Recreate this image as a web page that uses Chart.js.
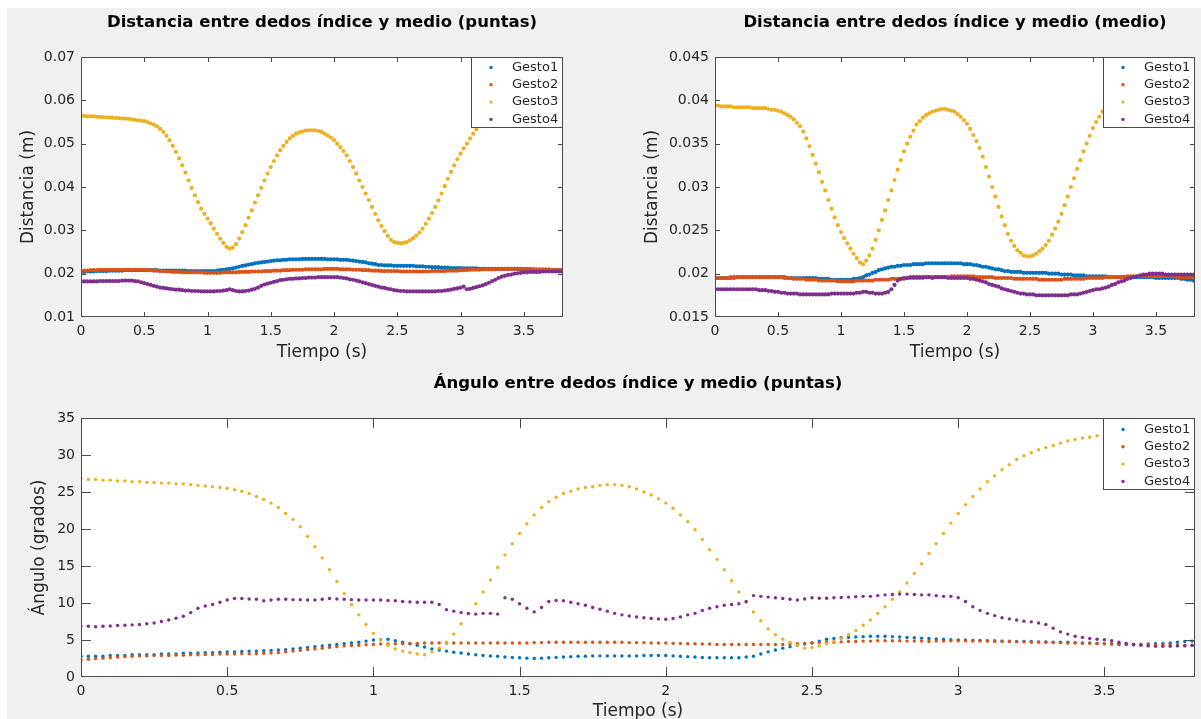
<!DOCTYPE html>
<html lang="es">
<head>
<meta charset="utf-8">
<title>Distancia y ángulo entre dedos</title>
<script src="https://cdn.jsdelivr.net/npm/chart.js@4.4.1/dist/chart.umd.min.js"></script>
<style>
  html, body { margin: 0; padding: 0; background: #fff; width: 1201px; height: 719px; overflow: hidden; }
  #figura { position: absolute; left: 7px; top: 8px; width: 1194px; height: 711px; background: #f0f0f0; }
  canvas { position: absolute; left: 0; top: 0; }
</style>
</head>
<body>
<div id="figura"></div>
<canvas id="puntas" width="1201" height="719"></canvas>
<canvas id="medio" width="1201" height="719"></canvas>
<canvas id="angulo" width="1201" height="719"></canvas>
<script>
// muestras cada 0.025 s, de 0 a 3.8 s
const tiempo = Array.from({ length: 153 }, (_, i) => +(i * 0.025).toFixed(3));

const gestos = ['Gesto1', 'Gesto2', 'Gesto3', 'Gesto4'];
const colores = ['#0072BD', '#D95319', '#EDB120', '#7E2F8E'];

const xTicks = [0, 0.5, 1, 1.5, 2, 2.5, 3, 3.5];
const xTickLabels = ['0', '0.5', '1', '1.5', '2', '2.5', '3', '3.5'];
const puntasYTicks = [0.01, 0.02, 0.03, 0.04, 0.05, 0.06, 0.07];
const puntasYLabels = ['0.01', '0.02', '0.03', '0.04', '0.05', '0.06', '0.07'];
const medioYTicks = [0.015, 0.02, 0.025, 0.03, 0.035, 0.04, 0.045];
const medioYLabels = ['0.015', '0.02', '0.025', '0.03', '0.035', '0.04', '0.045'];
const anguloYTicks = [0, 5, 10, 15, 20, 25, 30, 35];
const anguloYLabels = ['0', '5', '10', '15', '20', '25', '30', '35'];

// Distancia entre puntas (m)
const puntasG1 = [
  0.0204,0.0204,0.0205,0.0205,0.0205,0.0206,0.0206,0.0206,
  0.0206,0.0207,0.0207,0.0207,0.0207,0.0207,0.0208,0.0208,
  0.0208,0.0208,0.0208,0.0208,0.0208,0.0208,0.0208,0.0208,
  0.0208,0.0207,0.0207,0.0207,0.0207,0.0207,0.0207,0.0207,
  0.0207,0.0207,0.0206,0.0206,0.0206,0.0206,0.0206,0.0206,
  0.0206,0.0206,0.0206,0.0207,0.0208,0.0209,0.0210,0.0211,
  0.0212,0.0214,0.0216,0.0218,0.0219,0.0221,0.0222,0.0224,
  0.0225,0.0226,0.0227,0.0228,0.0229,0.0230,0.0231,0.0231,
  0.0232,0.0232,0.0233,0.0233,0.0233,0.0233,0.0234,0.0234,
  0.0234,0.0234,0.0234,0.0234,0.0234,0.0234,0.0233,0.0233,
  0.0233,0.0233,0.0232,0.0232,0.0232,0.0231,0.0230,0.0229,
  0.0228,0.0227,0.0226,0.0224,0.0223,0.0222,0.0220,0.0220,
  0.0219,0.0219,0.0219,0.0218,0.0218,0.0218,0.0218,0.0218,
  0.0218,0.0218,0.0217,0.0217,0.0217,0.0216,0.0216,0.0215,
  0.0215,0.0215,0.0214,0.0214,0.0214,0.0213,0.0213,0.0213,
  0.0213,0.0212,0.0212,0.0212,0.0212,0.0212,0.0211,0.0211,
  0.0211,0.0211,0.0211,0.0211,0.0211,0.0211,0.0211,0.0211,
  0.0211,0.0211,0.0211,0.0210,0.0210,0.0210,0.0210,0.0210,
  0.0209,0.0209,0.0209,0.0209,0.0208,0.0208,0.0208,0.0208,
  0.0208
];
const puntasG2 = [
  0.0206,0.0207,0.0207,0.0208,0.0208,0.0208,0.0209,0.0209,
  0.0209,0.0209,0.0209,0.0209,0.0209,0.0209,0.0209,0.0209,
  0.0209,0.0209,0.0209,0.0209,0.0209,0.0208,0.0208,0.0207,
  0.0207,0.0206,0.0206,0.0205,0.0205,0.0204,0.0204,0.0204,
  0.0203,0.0203,0.0203,0.0203,0.0203,0.0203,0.0203,0.0202,
  0.0202,0.0202,0.0202,0.0202,0.0202,0.0203,0.0203,0.0203,
  0.0203,0.0203,0.0204,0.0204,0.0204,0.0204,0.0205,0.0205,
  0.0205,0.0205,0.0206,0.0206,0.0206,0.0207,0.0207,0.0207,
  0.0208,0.0208,0.0208,0.0209,0.0209,0.0209,0.0209,0.0210,
  0.0210,0.0210,0.0210,0.0210,0.0210,0.0211,0.0211,0.0211,
  0.0211,0.0211,0.0210,0.0210,0.0210,0.0210,0.0209,0.0209,
  0.0209,0.0208,0.0208,0.0208,0.0207,0.0207,0.0207,0.0206,
  0.0206,0.0206,0.0206,0.0206,0.0206,0.0205,0.0205,0.0205,
  0.0205,0.0205,0.0205,0.0205,0.0205,0.0205,0.0205,0.0206,
  0.0206,0.0206,0.0206,0.0206,0.0207,0.0207,0.0207,0.0207,
  0.0208,0.0208,0.0208,0.0209,0.0209,0.0209,0.0209,0.0210,
  0.0210,0.0210,0.0210,0.0210,0.0211,0.0211,0.0211,0.0211,
  0.0211,0.0211,0.0211,0.0211,0.0211,0.0211,0.0211,0.0210,
  0.0210,0.0210,0.0210,0.0210,0.0210,0.0209,0.0209,0.0209,
  0.0209
];
const puntasG3 = [
  0.0564,0.0564,0.0563,0.0563,0.0563,0.0562,0.0562,0.0561,
  0.0561,0.0560,0.0560,0.0559,0.0559,0.0558,0.0558,0.0557,
  0.0556,0.0555,0.0554,0.0553,0.0552,0.0550,0.0547,0.0544,
  0.0540,0.0534,0.0527,0.0518,0.0508,0.0495,0.0481,0.0466,
  0.0450,0.0433,0.0415,0.0398,0.0381,0.0365,0.0350,0.0338,
  0.0327,0.0316,0.0304,0.0292,0.0281,0.0271,0.0262,0.0258,
  0.0260,0.0268,0.0281,0.0296,0.0312,0.0329,0.0346,0.0364,
  0.0381,0.0398,0.0415,0.0431,0.0446,0.0460,0.0473,0.0485,
  0.0495,0.0504,0.0512,0.0518,0.0523,0.0526,0.0528,0.0530,
  0.0531,0.0531,0.0531,0.0529,0.0527,0.0523,0.0519,0.0514,
  0.0508,0.0500,0.0492,0.0483,0.0473,0.0460,0.0446,0.0431,
  0.0415,0.0400,0.0385,0.0370,0.0354,0.0338,0.0323,0.0310,
  0.0298,0.0287,0.0278,0.0273,0.0271,0.0270,0.0271,0.0273,
  0.0277,0.0282,0.0288,0.0295,0.0304,0.0315,0.0327,0.0340,
  0.0354,0.0369,0.0385,0.0402,0.0419,0.0435,0.0450,0.0464,
  0.0477,0.0489,0.0500,0.0512,0.0523,0.0533,0.0542,0.0550,
  0.0558,0.0565,0.0572,0.0578,0.0584,0.0590,0.0595,0.0600,
  0.0605,0.0609,0.0613,0.0617,0.0620,0.0623,0.0626,0.0629,
  0.0631,0.0633,0.0635,0.0637,0.0638,0.0640,0.0641,0.0643,
  0.0644
];
const puntasG4 = [
  0.0182,0.0182,0.0182,0.0182,0.0182,0.0182,0.0183,0.0183,
  0.0183,0.0183,0.0183,0.0183,0.0183,0.0184,0.0184,0.0184,
  0.0184,0.0183,0.0182,0.0180,0.0178,0.0176,0.0174,0.0172,
  0.0170,0.0168,0.0167,0.0166,0.0165,0.0164,0.0163,0.0163,
  0.0162,0.0161,0.0161,0.0160,0.0160,0.0160,0.0159,0.0159,
  0.0159,0.0159,0.0159,0.0160,0.0160,0.0161,0.0162,0.0164,
  0.0162,0.0160,0.0159,0.0159,0.0160,0.0161,0.0163,0.0165,
  0.0168,0.0172,0.0175,0.0177,0.0179,0.0181,0.0183,0.0185,
  0.0186,0.0187,0.0188,0.0188,0.0189,0.0189,0.0190,0.0190,
  0.0191,0.0191,0.0191,0.0192,0.0192,0.0192,0.0192,0.0192,
  0.0192,0.0192,0.0191,0.0190,0.0189,0.0187,0.0186,0.0184,
  0.0182,0.0180,0.0178,0.0176,0.0174,0.0172,0.0170,0.0168,
  0.0167,0.0165,0.0164,0.0162,0.0161,0.0160,0.0160,0.0159,
  0.0159,0.0159,0.0159,0.0159,0.0159,0.0159,0.0159,0.0159,
  0.0159,0.0160,0.0160,0.0161,0.0162,0.0163,0.0165,0.0166,
  0.0168,0.0170,0.0164,0.0165,0.0167,0.0169,0.0171,0.0173,
  0.0176,0.0179,0.0183,0.0186,0.0190,0.0193,0.0195,0.0197,
  0.0198,0.0200,0.0201,0.0202,0.0203,0.0203,0.0204,0.0204,
  0.0204,0.0204,0.0205,0.0205,0.0205,0.0205,0.0205,0.0205,
  0.0205
];

// Distancia entre falanges medias (m)
const medioG1 = [
  0.0195,0.0195,0.0195,0.0195,0.0195,0.0195,0.0195,0.0196,
  0.0196,0.0196,0.0196,0.0196,0.0196,0.0196,0.0196,0.0196,
  0.0196,0.0196,0.0196,0.0196,0.0196,0.0196,0.0196,0.0195,
  0.0195,0.0195,0.0195,0.0195,0.0195,0.0195,0.0195,0.0195,
  0.0195,0.0194,0.0194,0.0194,0.0194,0.0193,0.0193,0.0193,
  0.0193,0.0193,0.0193,0.0193,0.0194,0.0194,0.0195,0.0196,
  0.0198,0.0199,0.0201,0.0202,0.0204,0.0205,0.0206,0.0207,
  0.0208,0.0208,0.0209,0.0209,0.0210,0.0210,0.0210,0.0211,
  0.0211,0.0211,0.0211,0.0212,0.0212,0.0212,0.0212,0.0212,
  0.0212,0.0212,0.0212,0.0212,0.0212,0.0212,0.0212,0.0211,
  0.0211,0.0211,0.0210,0.0210,0.0209,0.0208,0.0208,0.0207,
  0.0206,0.0205,0.0205,0.0204,0.0203,0.0203,0.0202,0.0202,
  0.0202,0.0202,0.0201,0.0201,0.0201,0.0201,0.0201,0.0201,
  0.0201,0.0201,0.0200,0.0200,0.0200,0.0200,0.0199,0.0199,
  0.0199,0.0199,0.0198,0.0198,0.0198,0.0198,0.0197,0.0197,
  0.0197,0.0197,0.0197,0.0197,0.0197,0.0196,0.0196,0.0196,
  0.0196,0.0196,0.0196,0.0196,0.0196,0.0196,0.0196,0.0196,
  0.0196,0.0196,0.0196,0.0196,0.0195,0.0195,0.0195,0.0195,
  0.0195,0.0195,0.0195,0.0195,0.0194,0.0194,0.0193,0.0193,
  0.0192
];
const medioG2 = [
  0.0195,0.0195,0.0195,0.0195,0.0195,0.0196,0.0196,0.0196,
  0.0196,0.0196,0.0196,0.0196,0.0196,0.0196,0.0196,0.0196,
  0.0196,0.0196,0.0196,0.0196,0.0196,0.0196,0.0195,0.0195,
  0.0195,0.0194,0.0194,0.0194,0.0194,0.0193,0.0193,0.0193,
  0.0193,0.0192,0.0192,0.0192,0.0192,0.0192,0.0192,0.0191,
  0.0191,0.0191,0.0191,0.0191,0.0191,0.0192,0.0192,0.0192,
  0.0192,0.0192,0.0192,0.0193,0.0193,0.0193,0.0193,0.0193,
  0.0194,0.0194,0.0194,0.0194,0.0194,0.0195,0.0195,0.0195,
  0.0195,0.0195,0.0195,0.0196,0.0196,0.0196,0.0196,0.0196,
  0.0196,0.0196,0.0196,0.0197,0.0197,0.0197,0.0197,0.0197,
  0.0197,0.0197,0.0197,0.0196,0.0196,0.0196,0.0196,0.0196,
  0.0196,0.0195,0.0195,0.0195,0.0195,0.0195,0.0195,0.0194,
  0.0194,0.0194,0.0194,0.0194,0.0194,0.0194,0.0194,0.0193,
  0.0193,0.0193,0.0193,0.0193,0.0193,0.0193,0.0193,0.0194,
  0.0194,0.0194,0.0194,0.0194,0.0194,0.0194,0.0195,0.0195,
  0.0195,0.0195,0.0195,0.0195,0.0196,0.0196,0.0196,0.0196,
  0.0196,0.0196,0.0196,0.0197,0.0197,0.0197,0.0197,0.0197,
  0.0197,0.0197,0.0197,0.0197,0.0197,0.0197,0.0197,0.0197,
  0.0197,0.0197,0.0197,0.0196,0.0196,0.0196,0.0196,0.0196,
  0.0196
];
const medioG3 = [
  0.0394,0.0394,0.0393,0.0393,0.0393,0.0393,0.0392,0.0392,
  0.0392,0.0392,0.0392,0.0392,0.0391,0.0391,0.0391,0.0391,
  0.0391,0.0390,0.0389,0.0389,0.0388,0.0387,0.0385,0.0383,
  0.0381,0.0378,0.0374,0.0370,0.0364,0.0356,0.0347,0.0337,
  0.0327,0.0317,0.0306,0.0296,0.0285,0.0275,0.0265,0.0256,
  0.0248,0.0241,0.0235,0.0229,0.0223,0.0218,0.0213,0.0211,
  0.0215,0.0221,0.0229,0.0239,0.0250,0.0262,0.0273,0.0285,
  0.0296,0.0308,0.0320,0.0331,0.0341,0.0350,0.0358,0.0365,
  0.0372,0.0376,0.0380,0.0383,0.0385,0.0387,0.0388,0.0389,
  0.0390,0.0390,0.0389,0.0388,0.0387,0.0384,0.0381,0.0377,
  0.0373,0.0367,0.0360,0.0353,0.0345,0.0335,0.0323,0.0312,
  0.0300,0.0289,0.0277,0.0266,0.0256,0.0246,0.0238,0.0232,
  0.0227,0.0224,0.0221,0.0220,0.0220,0.0221,0.0223,0.0226,
  0.0229,0.0233,0.0238,0.0245,0.0252,0.0260,0.0269,0.0279,
  0.0289,0.0300,0.0310,0.0321,0.0331,0.0341,0.0350,0.0359,
  0.0368,0.0375,0.0381,0.0387,0.0392,0.0397,0.0402,0.0406,
  0.0410,0.0414,0.0417,0.0420,0.0423,0.0426,0.0428,0.0430,
  0.0432,0.0434,0.0435,0.0437,0.0438,0.0439,0.0440,0.0441,
  0.0442,0.0443,0.0443,0.0444,0.0444,0.0445,0.0445,0.0445,
  0.0446
];
const medioG4 = [
  0.0182,0.0182,0.0182,0.0182,0.0182,0.0182,0.0182,0.0182,
  0.0182,0.0182,0.0182,0.0182,0.0182,0.0182,0.0181,0.0181,
  0.0181,0.0180,0.0180,0.0179,0.0179,0.0178,0.0178,0.0177,
  0.0177,0.0177,0.0177,0.0176,0.0176,0.0176,0.0176,0.0176,
  0.0176,0.0176,0.0176,0.0176,0.0176,0.0177,0.0177,0.0177,
  0.0177,0.0177,0.0177,0.0177,0.0177,0.0178,0.0178,0.0179,
  0.0179,0.0178,0.0178,0.0177,0.0177,0.0177,0.0178,0.0179,
  0.0182,0.0187,0.0192,0.0194,0.0195,0.0195,0.0196,0.0196,
  0.0196,0.0196,0.0196,0.0196,0.0196,0.0195,0.0196,0.0196,
  0.0196,0.0196,0.0195,0.0195,0.0195,0.0195,0.0195,0.0195,
  0.0195,0.0194,0.0194,0.0193,0.0192,0.0191,0.0190,0.0188,
  0.0187,0.0186,0.0185,0.0183,0.0182,0.0181,0.0180,0.0179,
  0.0178,0.0177,0.0177,0.0176,0.0176,0.0176,0.0175,0.0175,
  0.0175,0.0175,0.0175,0.0175,0.0175,0.0175,0.0175,0.0175,
  0.0175,0.0176,0.0176,0.0176,0.0177,0.0178,0.0179,0.0180,
  0.0181,0.0182,0.0182,0.0183,0.0184,0.0185,0.0187,0.0188,
  0.0190,0.0191,0.0192,0.0194,0.0195,0.0196,0.0197,0.0198,
  0.0199,0.0199,0.0200,0.0200,0.0200,0.0200,0.0200,0.0199,
  0.0199,0.0199,0.0199,0.0199,0.0199,0.0199,0.0199,0.0199,
  0.0199
];

// Ángulo entre puntas (grados)
const anguloG1 = [
  2.8,2.8,2.8,2.8,2.9,2.9,2.9,3.0,
  3.0,3.0,3.0,3.1,3.1,3.1,3.2,3.2,
  3.25,3.3,3.3,3.35,3.4,3.4,3.45,3.5,
  3.5,3.55,3.6,3.65,3.7,3.8,3.9,4.0,
  4.1,4.2,4.3,4.4,4.5,4.6,4.7,4.85,
  5.0,5.05,5.1,4.9,4.7,4.5,4.3,4.05,
  3.8,3.65,3.5,3.35,3.25,3.1,3.0,2.9,
  2.85,2.8,2.7,2.65,2.6,2.55,2.5,2.55,
  2.6,2.65,2.7,2.75,2.8,2.8,2.85,2.85,
  2.85,2.85,2.85,2.85,2.85,2.9,2.9,2.9,
  2.9,2.85,2.8,2.75,2.7,2.65,2.6,2.6,
  2.6,2.6,2.6,2.7,2.8,3.1,3.4,3.65,
  3.9,4.1,4.3,4.45,4.6,4.85,5.1,5.2,
  5.3,5.35,5.4,5.45,5.5,5.5,5.5,5.45,
  5.4,5.35,5.3,5.25,5.2,5.15,5.1,5.05,
  5.0,5.0,4.95,4.95,4.9,4.9,4.85,4.85,
  4.8,4.8,4.8,4.75,4.75,4.7,4.7,4.7,
  4.65,4.6,4.6,4.55,4.5,4.45,4.4,4.4,
  4.35,4.4,4.45,4.5,4.55,4.6,4.7,4.8,
  4.85
];
const anguloG2 = [
  2.3,2.4,2.5,2.55,2.6,2.7,2.75,2.8,
  2.85,2.85,2.9,2.9,2.9,2.95,2.95,3.0,
  3.0,3.05,3.05,3.1,3.1,3.1,3.15,3.15,
  3.15,3.2,3.25,3.3,3.4,3.5,3.6,3.7,
  3.8,3.9,4.0,4.1,4.2,4.25,4.3,4.35,
  4.4,4.45,4.45,4.5,4.5,4.55,4.55,4.6,
  4.6,4.6,4.6,4.6,4.6,4.6,4.6,4.6,
  4.6,4.6,4.6,4.6,4.6,4.6,4.65,4.65,
  4.7,4.7,4.7,4.7,4.7,4.7,4.7,4.7,
  4.7,4.7,4.7,4.65,4.65,4.65,4.6,4.6,
  4.6,4.55,4.55,4.5,4.5,4.45,4.45,4.4,
  4.4,4.4,4.4,4.4,4.4,4.4,4.4,4.4,
  4.4,4.45,4.5,4.55,4.6,4.65,4.7,4.7,
  4.75,4.8,4.8,4.85,4.85,4.9,4.9,4.9,
  4.9,4.85,4.85,4.85,4.8,4.85,4.85,4.9,
  4.9,4.9,4.85,4.85,4.85,4.8,4.8,4.8,
  4.75,4.75,4.7,4.7,4.7,4.65,4.65,4.6,
  4.6,4.55,4.55,4.5,4.5,4.45,4.45,4.45,
  4.4,4.4,4.4,4.35,4.35,4.35,4.3,4.3,
  4.3
];
const anguloG3 = [
  26.8,26.7,26.7,26.6,26.6,26.5,26.5,26.4,
  26.4,26.3,26.3,26.2,26.2,26.1,26.1,26.0,
  25.9,25.8,25.7,25.6,25.5,25.3,25.1,24.8,
  24.4,24.0,23.5,22.9,22.1,21.3,20.3,19.0,
  17.6,16.1,14.5,12.9,11.3,9.8,8.4,7.1,
  5.9,5.0,4.3,3.8,3.5,3.3,3.1,3.0,
  3.4,3.9,4.7,5.8,7.2,8.5,9.9,11.5,
  13.1,14.8,16.5,18.0,19.4,20.7,21.9,22.9,
  23.7,24.3,24.8,25.1,25.4,25.6,25.7,25.9,
  26.0,26.0,25.9,25.7,25.4,25.0,24.6,24.1,
  23.5,22.8,21.9,21.0,19.9,18.6,17.2,15.9,
  14.5,13.0,11.5,10.1,8.8,7.6,6.5,5.7,
  5.1,4.7,4.3,3.9,4.0,4.2,4.5,4.8,
  5.2,5.7,6.3,7.0,7.7,8.6,9.5,10.5,
  11.5,12.7,14.0,15.3,16.7,18.0,19.4,20.8,
  22.1,23.3,24.4,25.4,26.4,27.2,28.0,28.7,
  29.4,29.9,30.3,30.7,31.0,31.3,31.6,31.9,
  32.1,32.3,32.4,32.6,32.7,32.8,33.0,33.1,
  33.2,33.3,33.4,33.5,33.6,33.7,33.8,33.9,
  34.1
];
const anguloG4 = [
  6.9,6.85,6.8,6.85,6.9,6.95,7.0,7.05,
  7.1,7.2,7.3,7.5,7.7,7.95,8.2,8.7,
  9.3,9.6,9.8,10.1,10.4,10.6,10.6,10.55,
  10.5,10.3,10.4,10.5,10.5,10.45,10.45,10.4,
  10.4,10.5,10.6,10.55,10.5,10.45,10.4,10.4,
  10.4,10.4,10.35,10.3,10.2,10.15,10.1,10.1,
  10.1,9.8,9.1,8.9,8.7,8.6,8.5,8.6,
  8.6,8.5,10.7,10.5,9.9,9.3,8.8,9.4,
  10.2,10.35,10.3,10.1,9.9,9.7,9.4,9.15,
  8.9,8.6,8.4,8.25,8.1,8.0,7.9,7.85,
  7.8,7.9,8.1,8.4,8.6,9.0,9.3,9.5,
  9.7,9.8,9.9,10.2,11.0,10.9,10.8,10.7,
  10.6,10.5,10.4,10.55,10.7,10.65,10.65,10.7,
  10.75,10.8,10.85,10.9,10.9,11.0,11.1,11.15,
  11.2,11.2,11.15,11.1,11.1,11.0,10.9,10.9,
  10.7,10.2,9.5,9.0,8.6,8.3,8.0,7.85,
  7.7,7.55,7.45,7.3,7.1,6.6,6.1,5.8,
  5.5,5.35,5.2,5.1,5.05,4.9,4.7,4.55,
  4.4,4.3,4.2,4.15,4.15,4.15,4.2,4.2,
  4.25
];

Chart.defaults.font.family = "'DejaVu Sans', sans-serif";
Chart.defaults.font.size = 14;
Chart.defaults.color = '#262626';

// caja de ejes con marcas hacia dentro, leyenda y títulos al estilo MATLAB
const ejesMatlab = {
  id: 'ejesMatlab',
  beforeDatasetsDraw(chart) {
    const { ctx, chartArea: a } = chart;
    ctx.save();
    ctx.fillStyle = '#ffffff';
    ctx.fillRect(a.left, a.top, a.right - a.left, a.bottom - a.top);
    ctx.restore();
  },
  afterDatasetsDraw(chart, args, opts) {
    const { ctx, chartArea: a, scales } = chart;
    const L = opts.tickLen;
    ctx.save();
    ctx.strokeStyle = '#4a4a4a';
    ctx.lineWidth = 1;
    ctx.beginPath();
    scales.x.ticks.forEach(t => {
      const px = Math.round(scales.x.getPixelForValue(t.value));
      if (px <= a.left + 1 || px >= a.right - 1) return;
      ctx.moveTo(px + 0.5, a.bottom); ctx.lineTo(px + 0.5, a.bottom - L);
      ctx.moveTo(px + 0.5, a.top); ctx.lineTo(px + 0.5, a.top + L);
    });
    scales.y.ticks.forEach(t => {
      const py = Math.round(scales.y.getPixelForValue(t.value));
      if (py <= a.top + 1 || py >= a.bottom - 1) return;
      ctx.moveTo(a.left, py + 0.5); ctx.lineTo(a.left + L, py + 0.5);
      ctx.moveTo(a.right, py + 0.5); ctx.lineTo(a.right - L, py + 0.5);
    });
    ctx.stroke();
    ctx.strokeRect(a.left + 0.5, a.top + 0.5, a.right - a.left - 1, a.bottom - a.top - 1);

    // leyenda
    const lw = 92, lh = opts.legendH;
    const lx = a.right - lw, ly = a.top;
    ctx.fillStyle = '#ffffff';
    ctx.fillRect(lx, ly, lw, lh);
    ctx.strokeRect(lx + 0.5, ly + 0.5, lw - 1, lh - 1);
    ctx.font = "13px 'DejaVu Sans'";
    ctx.textBaseline = 'middle';
    ctx.textAlign = 'left';
    chart.data.datasets.forEach((ds, i) => {
      const y = ly + opts.legendTop + i * 17.3;
      ctx.fillStyle = ds.backgroundColor;
      ctx.beginPath();
      ctx.arc(lx + 20, y, 1.7, 0, Math.PI * 2);
      ctx.fill();
      ctx.fillStyle = '#262626';
      ctx.fillText(ds.label, lx + 41, y);
    });
    ctx.restore();
  },
  afterDraw(chart, args, opts) {
    const { ctx, chartArea: a } = chart;
    const cx = (a.left + a.right) / 2;
    ctx.save();
    ctx.textAlign = 'center';
    ctx.textBaseline = 'middle';
    ctx.fillStyle = '#000000';
    ctx.font = "bold 16.5px 'DejaVu Sans'";
    ctx.fillText(opts.titulo, cx, a.top - 34);
    ctx.fillStyle = '#262626';
    ctx.font = "17px 'DejaVu Sans'";
    ctx.fillText(opts.xTitulo, cx, a.bottom + opts.xTituloOffset);
    ctx.translate(a.left - opts.yTituloOffset, (a.top + a.bottom) / 2);
    ctx.rotate(-Math.PI / 2);
    ctx.fillText(opts.yTitulo, 0, 0);
    ctx.restore();
  }
};

function crearGrafico(id, series, cfg) {
  return new Chart(document.getElementById(id), {
    type: 'scatter',
    data: {
      datasets: series.map((ys, i) => ({
        label: gestos[i],
        data: ys.map((y, k) => ({ x: tiempo[k], y })),
        backgroundColor: colores[i],
        pointBackgroundColor: colores[i],
        pointBorderWidth: 0,
        pointRadius: cfg.radio,
        order: series.length - i
      }))
    },
    options: {
      responsive: false,
      animation: false,
      events: [],
      layout: { padding: cfg.padding },
      plugins: {
        legend: { display: false },
        tooltip: { enabled: false },
        ejesMatlab: {
          titulo: cfg.titulo,
          xTitulo: 'Tiempo (s)',
          yTitulo: cfg.yTitulo,
          yTituloOffset: cfg.yTituloOffset,
          xTituloOffset: cfg.xTituloOffset,
          tickLen: cfg.tickLen,
          legendH: cfg.legendH,
          legendTop: cfg.legendTop
        }
      },
      scales: {
        x: {
          type: 'linear',
          min: 0,
          max: 3.81,
          afterFit: s => { s.height = 30; },
          afterBuildTicks: s => { s.ticks = xTicks.map(v => ({ value: v })); },
          ticks: {
            padding: 6,
            maxRotation: 0,
            autoSkip: false,
            callback: (v, i) => xTickLabels[i]
          },
          grid: { display: false, drawTicks: false },
          border: { display: false }
        },
        y: {
          type: 'linear',
          min: cfg.yMin,
          max: cfg.yMax,
          afterFit: s => { s.width = cfg.anchoY; },
          afterBuildTicks: s => { s.ticks = cfg.yTicks.map(v => ({ value: v })); },
          ticks: {
            padding: 6,
            autoSkip: false,
            callback: (v, i) => cfg.yLabels[i]
          },
          grid: { display: false, drawTicks: false },
          border: { display: false }
        }
      }
    },
    plugins: [ejesMatlab]
  });
}

crearGrafico('puntas', [puntasG1, puntasG2, puntasG3, puntasG4], {
  titulo: 'Distancia entre dedos índice y medio (puntas)',
  yTitulo: 'Distancia (m)',
  yMin: 0.01, yMax: 0.07,
  yTicks: puntasYTicks, yLabels: puntasYLabels,
  padding: { left: 0, top: 57, right: 638, bottom: 372 },
  anchoY: 81, yTituloOffset: 52, xTituloOffset: 36,
  tickLen: 5, legendH: 71, legendTop: 10.5, radio: 2.1
});

crearGrafico('medio', [medioG1, medioG2, medioG3, medioG4], {
  titulo: 'Distancia entre dedos índice y medio (medio)',
  yTitulo: 'Distancia (m)',
  yMin: 0.015, yMax: 0.045,
  yTicks: medioYTicks, yLabels: medioYLabels,
  padding: { left: 600, top: 57, right: 6, bottom: 372 },
  anchoY: 115, yTituloOffset: 62, xTituloOffset: 36,
  tickLen: 5, legendH: 71, legendTop: 10.5, radio: 2.1
});

crearGrafico('angulo', [anguloG1, anguloG2, anguloG3, anguloG4], {
  titulo: 'Ángulo entre dedos índice y medio (puntas)',
  yTitulo: 'Ángulo (grados)',
  yMin: 0, yMax: 35,
  yTicks: anguloYTicks, yLabels: anguloYLabels,
  padding: { left: 0, top: 418, right: 6, bottom: 12 },
  anchoY: 81, yTituloOffset: 41, xTituloOffset: 35,
  tickLen: 10, legendH: 72, legendTop: 11.5, radio: 1.7
});
</script>
</body>
</html>
